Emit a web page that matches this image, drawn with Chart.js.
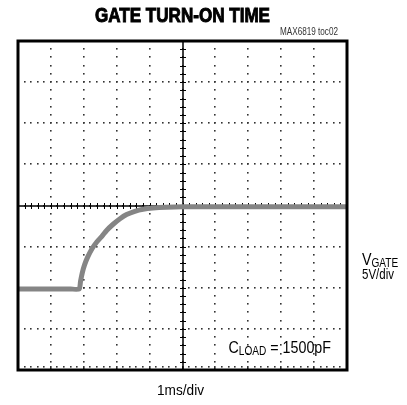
<!DOCTYPE html>
<html>
<head>
<meta charset="utf-8">
<script src="https://cdn.jsdelivr.net/npm/chart.js@4/dist/chart.umd.min.js"></script>
<style>
    html, body { margin: 0; padding: 0; background: #fff; }
    #wrap { position: relative; width: 407px; height: 405px; }
</style>
</head>
<body>
<div id="wrap"><canvas id="chart" width="407" height="405"></canvas></div>
<script>
// scope trace, in screen divisions (x: 1ms/div, y: 5V/div, 0 = centre line)
const timeDiv = [0, 0.8, 1.6, 1.86, 1.90, 1.95, 2.02, 2.12, 2.25, 2.40, 2.55, 2.70, 2.90, 3.10, 3.30, 3.55, 3.80, 4.10, 4.50, 5.0, 6.0, 7.0, 8.0, 9.0, 10.0]
const gateDiv = [-2.03, -2.03, -2.03, -2.03, -1.85, -1.65, -1.45, -1.25, -1.05, -0.88, -0.75, -0.60, -0.45, -0.32, -0.22, -0.14, -0.09, -0.06, -0.04, -0.03, -0.03, -0.03, -0.03, -0.03, -0.03]

const X_DIVS = 10
const Y_DIVS = 8
const MINOR = 5
const FONT = '"Liberation Sans", Arial, sans-serif'
const NARROW = 0.84

const scopeGrid = {
    id: 'scopeGrid',
    beforeDatasetsDraw(chart) {
        const { ctx, chartArea, scales } = chart
        const sx = scales.x
        const sy = scales.y
        ctx.save()
        ctx.fillStyle = '#333'

        // dotted grid lines
        for (let j = 1; j < Y_DIVS; j++) {
            const py = sy.getPixelForValue(j - Y_DIVS / 2)
            for (let k = 1; k < X_DIVS * MINOR; k++) {
                const px = sx.getPixelForValue(k / MINOR)
                ctx.fillRect(Math.round(px) - 1, Math.round(py) - 1, 1.6, 1.6)
            }
        }
        for (let i = 1; i < X_DIVS; i++) {
            const px = sx.getPixelForValue(i)
            for (let k = 1; k < Y_DIVS * MINOR; k++) {
                const py = sy.getPixelForValue(k / MINOR - Y_DIVS / 2)
                ctx.fillRect(Math.round(px) - 1, Math.round(py) - 1, 1.6, 1.6)
            }
        }
        // minor ticks on the bottom edge
        for (let k = 1; k < X_DIVS * MINOR; k++) {
            const px = sx.getPixelForValue(k / MINOR)
            ctx.fillRect(Math.round(px) - 1, chartArea.bottom - 4, 1.6, k % MINOR === 0 ? 3 : 1.6)
        }

        // centre axes with minor ticks
        const cx = Math.round(sx.getPixelForValue(X_DIVS / 2))
        const cy = Math.round(sy.getPixelForValue(0))
        ctx.strokeStyle = '#000'
        ctx.lineWidth = 1.5
        ctx.beginPath()
        ctx.moveTo(chartArea.left, cy)
        ctx.lineTo(chartArea.right, cy)
        ctx.moveTo(cx, chartArea.top)
        ctx.lineTo(cx, chartArea.bottom)
        ctx.stroke()
        ctx.lineWidth = 1
        ctx.beginPath()
        for (let k = 0; k <= X_DIVS * MINOR; k++) {
            const px = Math.round(sx.getPixelForValue(k / MINOR)) + 0.5
            ctx.moveTo(px, cy - 3)
            ctx.lineTo(px, cy + 3)
        }
        for (let k = 0; k <= Y_DIVS * MINOR; k++) {
            const py = Math.round(sy.getPixelForValue(k / MINOR - Y_DIVS / 2)) + 0.5
            ctx.moveTo(cx - 3, py)
            ctx.lineTo(cx + 3, py)
        }
        ctx.stroke()
        ctx.restore()
    },
    afterDatasetsDraw(chart) {
        const { ctx, chartArea } = chart
        ctx.save()
        ctx.strokeStyle = '#000'
        ctx.lineWidth = 3
        ctx.strokeRect(chartArea.left, chartArea.top, chartArea.right - chartArea.left, chartArea.bottom - chartArea.top)
        ctx.restore()
    }
}

// draws text squeezed horizontally so it looks like a condensed face
function narrowText(ctx, text, x, y, font, scale, heavy) {
    ctx.save()
    ctx.font = font
    ctx.translate(x, y)
    ctx.scale(scale, 1)
    ctx.fillText(text, 0, 0)
    if (heavy) {
        ctx.lineWidth = heavy
        ctx.strokeStyle = ctx.fillStyle
        ctx.strokeText(text, 0, 0)
    }
    ctx.restore()
    ctx.font = font
    return ctx.measureText(text).width * scale
}

function fitText(ctx, text, x, y, font, width, heavy) {
    ctx.font = font
    return narrowText(ctx, text, x, y, font, width / ctx.measureText(text).width, heavy)
}

function textWidth(ctx, text, font, scale) {
    ctx.font = font
    return ctx.measureText(text).width * scale
}

const scopeText = {
    id: 'scopeText',
    afterDraw(chart) {
        const { ctx } = chart
        ctx.save()
        ctx.fillStyle = '#000'
        ctx.textAlign = 'left'
        ctx.textBaseline = 'alphabetic'

        fitText(ctx, 'GATE TURN-ON TIME', 95, 22, 'bold 21px ' + FONT, 175, 1)

        ctx.fillStyle = '#333'
        fitText(ctx, 'MAX6819 toc02', 280, 35, '10px ' + FONT, 58)

        ctx.fillStyle = '#000'
        const big = '17px ' + FONT
        const sub = '12px ' + FONT
        let w = narrowText(ctx, 'V', 362, 265, big, NARROW)
        narrowText(ctx, 'GATE', 362 + w, 267, sub, NARROW)
        fitText(ctx, '5V/div', 362, 279, '15px ' + FONT, 32)

        const parts = textWidth(ctx, 'C', big, NARROW) + textWidth(ctx, 'LOAD', sub, NARROW) + textWidth(ctx, ' = 1500pF', big, NARROW)
        let cx = 331 - parts
        cx += narrowText(ctx, 'C', cx, 353, big, NARROW)
        cx += narrowText(ctx, 'LOAD', cx, 355, sub, NARROW)
        narrowText(ctx, ' = 1500pF', cx, 353, big, NARROW)

        fitText(ctx, '1ms/div', 157, 395, '15px ' + FONT, 47)
        ctx.restore()
    }
}

new Chart(document.getElementById('chart'), {
    type: 'line',
    data: {
        datasets: [{
            data: timeDiv.map((t, i) => ({ x: t, y: gateDiv[i] })),
            borderColor: '#858585',
            borderWidth: 5,
            pointRadius: 0,
            tension: 0.2,
            fill: false
        }]
    },
    options: {
        responsive: false,
        animation: false,
        layout: { padding: { left: 18, top: 41, right: 60, bottom: 35 } },
        plugins: {
            legend: { display: false },
            tooltip: { enabled: false }
        },
        scales: {
            x: { type: 'linear', min: 0, max: X_DIVS, display: false },
            y: { type: 'linear', min: -Y_DIVS / 2, max: Y_DIVS / 2, display: false }
        }
    },
    plugins: [scopeGrid, scopeText]
})
</script>
</body>
</html>
